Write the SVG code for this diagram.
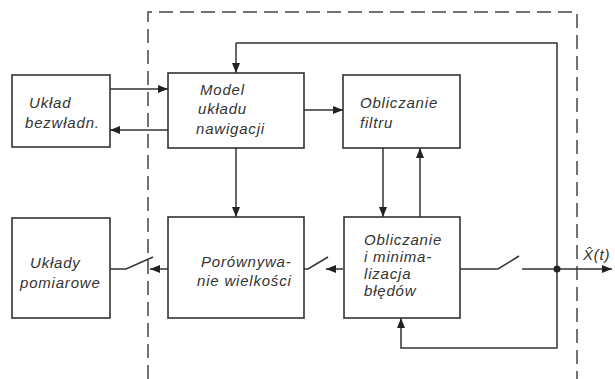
<svg xmlns="http://www.w3.org/2000/svg" width="615" height="379" viewBox="0 0 615 379">
<defs>
<marker id="ar" viewBox="0 0 10 8" refX="10" refY="4" markerWidth="10" markerHeight="8" markerUnits="userSpaceOnUse" orient="auto">
<path d="M0,0 L10,4 L0,8 Z" fill="#222"/>
</marker>
</defs>
<style>
.box{fill:#fff;stroke:#333;stroke-width:1.6}
.ln{fill:none;stroke:#333;stroke-width:1.5}
.dash{fill:none;stroke:#444;stroke-width:1.5;stroke-dasharray:14,7}
.t{font-family:"Liberation Sans",Arial,sans-serif;font-style:italic;font-size:15px;letter-spacing:0.8px;fill:#333}
</style>
<rect width="615" height="379" fill="#fff"/>
<g id="boundary">
<path class="dash" d="M148,379 V12 H577 V379"/>
</g>
<g id="connectors">
<path class="ln" d="M236,43 H557 V348 H401 V318" marker-end="url(#ar)"/>
<path class="ln" d="M236,43 V73" marker-end="url(#ar)"/>
<path class="ln" d="M110,89 H168" marker-end="url(#ar)"/>
<path class="ln" d="M168,130 H110" marker-end="url(#ar)"/>
<path class="ln" d="M304,110 H343" marker-end="url(#ar)"/>
<path class="ln" d="M383,148 V217" marker-end="url(#ar)"/>
<path class="ln" d="M420,217 V148" marker-end="url(#ar)"/>
<path class="ln" d="M236,148 V217" marker-end="url(#ar)"/>
<path class="ln" d="M110,269 H126 L153,257"/>
<path class="ln" d="M168,269 H150" marker-end="url(#ar)"/>
<path class="ln" d="M304,269 H308 L328,257"/>
<path class="ln" d="M343,269 H326" marker-end="url(#ar)"/>
<path class="ln" d="M460,269 H498 L519,256"/>
<path class="ln" d="M522,269 H612" marker-end="url(#ar)"/>
<circle cx="557" cy="269" r="3.5" fill="#222"/>
</g>
<g id="uklad-bezwladn">
<rect class="box" x="12" y="75" width="98" height="72"/>
<text class="t" x="29" y="108">Układ</text>
<text class="t" x="25" y="128">bezwładn.</text>
</g>
<g id="model">
<rect class="box" x="168" y="73" width="136" height="75"/>
<text class="t" x="200" y="95">Model</text>
<text class="t" x="198" y="114">układu</text>
<text class="t" x="196" y="134">nawigacji</text>
</g>
<g id="filtr">
<rect class="box" x="343" y="75" width="117" height="73"/>
<text class="t" x="360" y="108">Obliczanie</text>
<text class="t" x="360" y="128">filtru</text>
</g>
<g id="uklady-pomiarowe">
<rect class="box" x="12" y="218" width="98" height="100"/>
<text class="t" x="30" y="268">Układy</text>
<text class="t" x="20" y="288">pomiarowe</text>
</g>
<g id="porownywanie">
<rect class="box" x="168" y="217" width="136" height="101"/>
<text class="t" x="201" y="267">Porównywa-</text>
<text class="t" x="197" y="286">nie wielkości</text>
</g>
<g id="minimalizacja">
<rect class="box" x="344" y="217" width="116" height="101"/>
<text class="t" x="364" y="245">Obliczanie</text>
<text class="t" x="364" y="262">i minima-</text>
<text class="t" x="364" y="279">lizacja</text>
<text class="t" x="364" y="296">błędów</text>
</g>
<g id="output">
<text class="t" x="583" y="260">X̂(t)</text>
</g>
</svg>
